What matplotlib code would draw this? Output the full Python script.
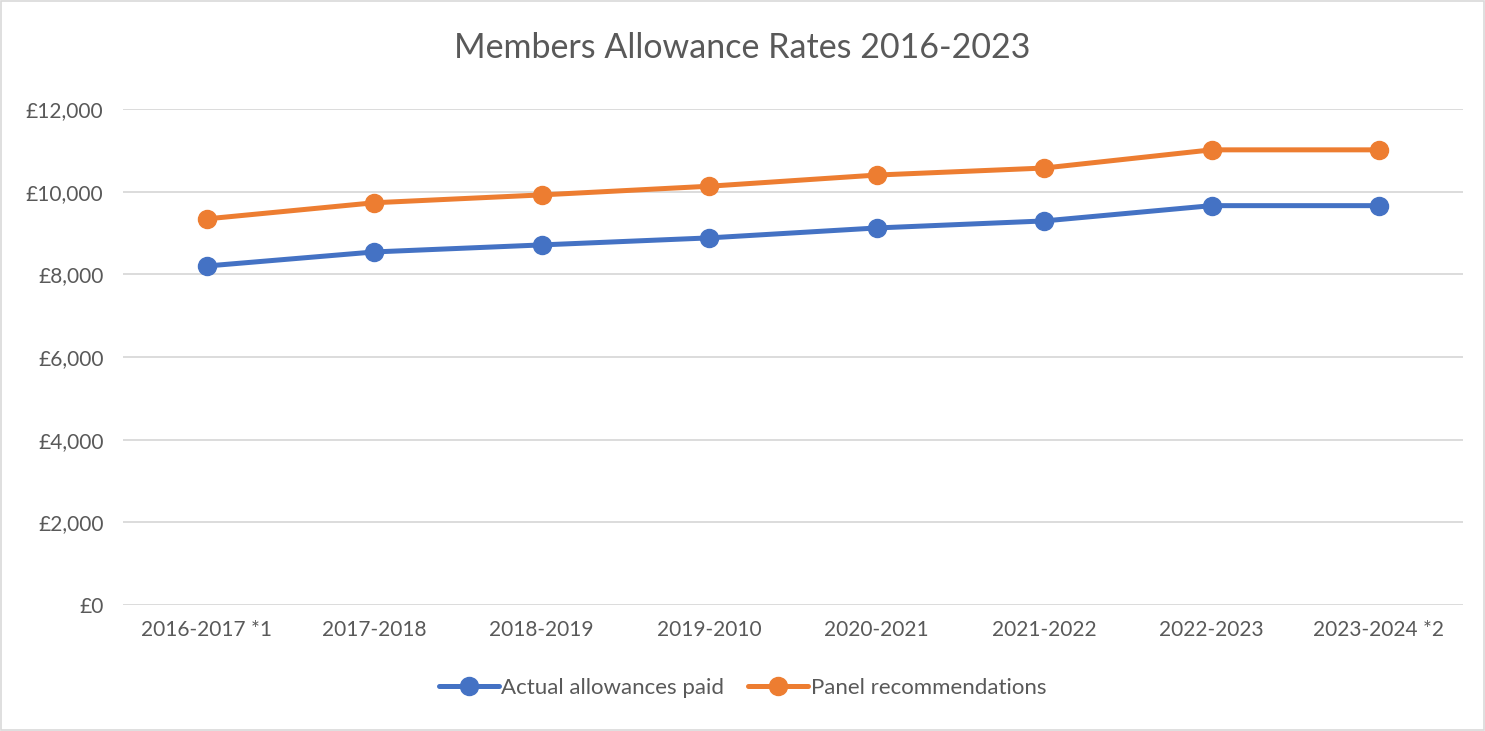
import matplotlib.pyplot as plt
from matplotlib.ticker import FuncFormatter
from matplotlib.patches import Rectangle

years = ["2016-2017 *1", "2017-2018", "2018-2019", "2019-2010",
         "2020-2021", "2021-2022", "2022-2023", "2023-2024 *2"]
actual_paid = [8200, 8540, 8710, 8880, 9120, 9290, 9660, 9660]
panel_recs = [9340, 9730, 9920, 10130, 10400, 10570, 11010, 11010]

blue = "#4472C4"
orange = "#ED7D31"
text_col = "#595959"

plt.rcParams["font.family"] = ["Lato", "DejaVu Sans"]

fig = plt.figure(figsize=(14.85, 7.31), dpi=100)
ax = fig.add_axes([0.0828, 0.1724, 0.9022, 0.6786])

x = list(range(len(years)))
ax.plot(x, actual_paid, color=blue, lw=3.6, marker="o", ms=13,
        label="Actual allowances paid", zorder=3, solid_capstyle="round")
ax.plot(x, panel_recs, color=orange, lw=3.6, marker="o", ms=13,
        label="Panel recommendations", zorder=3, solid_capstyle="round")

ax.set_xlim(-0.5, len(years) - 0.5)
ax.set_ylim(0, 12000)
ax.set_yticks(range(0, 12001, 2000))
ax.yaxis.set_major_formatter(FuncFormatter(lambda v, p: "£{:,.0f}".format(v)))
ax.set_xticks(x)
ax.set_xticklabels(years)
ax.tick_params(axis="both", length=0, labelsize=15, colors=text_col, pad=11)
ax.tick_params(axis="y", pad=14)

for s in ax.spines.values():
    s.set_visible(False)
ax.yaxis.grid(True, color="#D9D9D9", lw=1.3, zorder=0)
ax.set_axisbelow(True)

fig.text(0.5, 0.934, "Members Allowance Rates 2016-2023", ha="center", va="center",
         fontsize=24.5, color=text_col)

# legend sits under the axis, centred on the figure
leg = fig.legend(loc="center", bbox_to_anchor=(0.5, 1 - 688 / 731), ncol=2,
                 frameon=False, fontsize=16, handlelength=2.7, columnspacing=1.1,
                 handletextpad=0.1)
for t in leg.get_texts():
    t.set_color(text_col)

fig.patches.append(Rectangle((0.001, 0.001), 0.998, 0.997, transform=fig.transFigure,
                             fill=False, edgecolor="#D9D9D9", lw=1.2))

fig.savefig("out.png", dpi=100)
